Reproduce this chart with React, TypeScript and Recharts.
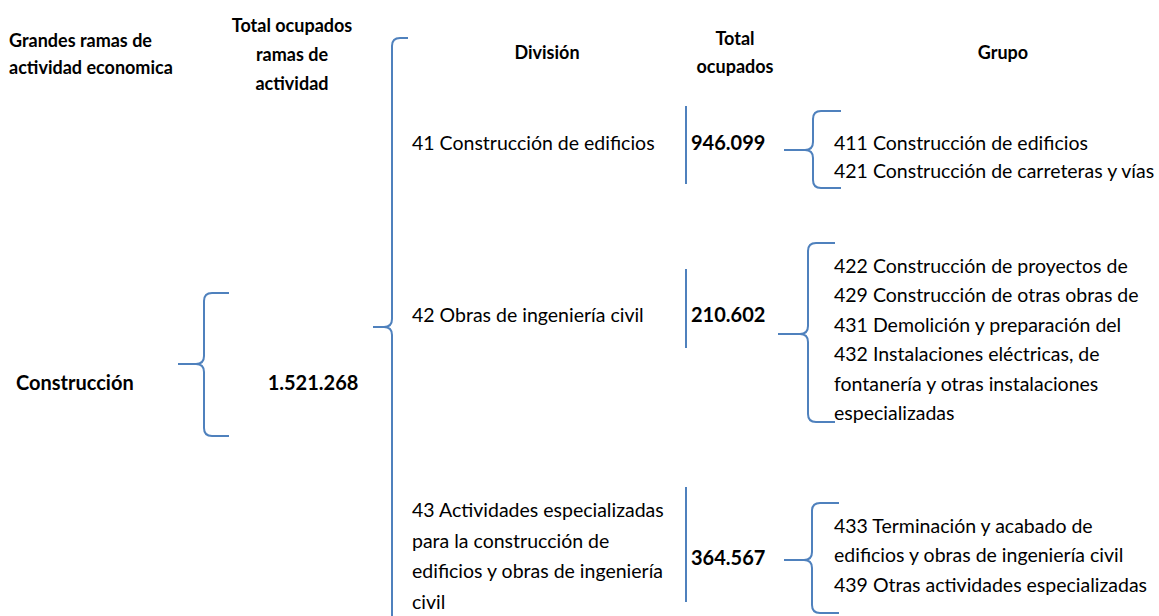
import { ScatterChart, Scatter, XAxis, YAxis, ReferenceLine } from 'recharts'

document.body.style.margin = '0'

// --- datos ---
const encabezados = [
  ['Grandes ramas de', 'actividad economica'],
  ['Total ocupados', 'ramas de', 'actividad'],
  ['División'],
  ['Total', 'ocupados'],
  ['Grupo'],
]
const rama = 'Construcción'
const totalRama = 1521268
const divisiones = [
  ['41 Construcción de edificios'],
  ['42 Obras de ingeniería civil'],
  ['43 Actividades especializadas', 'para la construcción de', 'edificios y obras de ingeniería', 'civil'],
]
const totalesDivision = [946099, 210602, 364567]
const grupos = [
  ['411 Construcción de edificios', '421 Construcción de carreteras y vías'],
  [
    '422 Construcción de proyectos de',
    '429 Construcción de otras obras de',
    '431 Demolición y preparación del',
    '432 Instalaciones eléctricas, de',
    'fontanería y otras instalaciones',
    'especializadas',
  ],
  ['433 Terminación y acabado de', 'edificios y obras de ingeniería civil', '439 Otras actividades especializadas'],
]

// --- layout (pixels == axis units) ---
const W = 1159
const H = 616
const FONT = 'Lato, "Open Sans", sans-serif'
const BLUE = '#4F81BD'
const headerPos = [
  { x: 9, y: 47, anchor: 'start', lh: 27 },
  { x: 292, y: 32, anchor: 'middle', lh: 29 },
  { x: 547, y: 59, anchor: 'middle', lh: 28 },
  { x: 735, y: 45, anchor: 'middle', lh: 28 },
  { x: 1003, y: 59, anchor: 'middle', lh: 28 },
]
const divisionPos = [150, 322, 517]
const divisionLh = [32, 32, 30.7]
const totalPos = [150, 322, 565]
const grupoPos = [150, 273, 533]
const bars = [
  [106, 184],
  [269, 348],
  [487, 602],
]
const braces = [
  { x: 204, y: 364, top: 293, bottom: 436, tipX: 178, armX: 229 },
  { x: 392, y: 327, top: 38, bottom: 660, tipX: 373, armX: 408 },
  { x: 813, y: 150, top: 111, bottom: 188, tipX: 784, armX: 841 },
  { x: 808, y: 334, top: 243, bottom: 422, tipX: 778, armX: 835 },
  { x: 812, y: 560, top: 503, bottom: 613, tipX: 784, armX: 839 },
]

const fmt = (n: number) => String(n).replace(/\B(?=(\d{3})+(?!\d))/g, '.')

type Lbl = { x: number; y: number; lines: string[]; size: number; bold: boolean; anchor: string; lh: number }

const labels: Lbl[] = [
  ...encabezados.map((lines, i) => ({ ...headerPos[i], lines, size: 18, bold: true })),
  { x: 16, y: 390, lines: [rama], size: 20, bold: true, anchor: 'start', lh: 28 },
  { x: 313, y: 390, lines: [fmt(totalRama)], size: 20, bold: true, anchor: 'middle', lh: 28 },
  ...divisiones.map((lines, i) => ({ x: 412, y: divisionPos[i], lines, size: 19.5, bold: false, anchor: 'start', lh: divisionLh[i] })),
  ...totalesDivision.map((v, i) => ({ x: 691, y: totalPos[i], lines: [fmt(v)], size: 20, bold: true, anchor: 'start', lh: 28 })),
  ...grupos.map((lines, i) => ({ x: 834, y: grupoPos[i], lines, size: 19.5, bold: false, anchor: 'start', lh: i === 0 ? 28 : 29.4 })),
]

const LabelShape = (props: any) => {
  const { cx, cy, payload } = props
  return (
    <text
      x={cx}
      y={cy}
      textAnchor={payload.anchor}
      fontFamily={FONT}
      fontSize={payload.size}
      fontWeight={payload.bold ? 700 : 400}
      fill="#000"
    >
      {payload.lines.map((l: string, i: number) => (
        <tspan key={i} x={cx} dy={i === 0 ? 0 : payload.lh}>
          {l}
        </tspan>
      ))}
    </text>
  )
}

const BraceShape = (props: any) => {
  const { cx, cy, payload: b } = props
  const r = 8
  const top = cy + (b.top - b.y)
  const bottom = cy + (b.bottom - b.y)
  const tip = cx + (b.tipX - b.x)
  const arm = cx + (b.armX - b.x)
  const d = [
    `M${arm},${top} L${cx + r},${top} Q${cx},${top} ${cx},${top + r}`,
    `L${cx},${cy - r} Q${cx},${cy} ${cx - r},${cy} L${tip},${cy}`,
    `M${cx - r},${cy} Q${cx},${cy} ${cx},${cy + r}`,
    `L${cx},${bottom - r} Q${cx},${bottom} ${cx + r},${bottom} L${arm},${bottom}`,
  ].join(' ')
  return <path d={d} fill="none" stroke={BLUE} strokeWidth={2} />
}

export default function App() {
  return (
    <div style={{ width: W, height: H, background: '#fff' }}>
      <ScatterChart width={W} height={H} margin={{ top: 0, right: 0, bottom: 0, left: 0 }}>
        <XAxis type="number" dataKey="x" domain={[0, W]} allowDataOverflow hide />
        <YAxis type="number" dataKey="y" domain={[0, H]} allowDataOverflow reversed hide />
        {bars.map(([a, b], i) => (
          <ReferenceLine key={i} segment={[{ x: 686, y: a }, { x: 686, y: b }]} stroke={BLUE} strokeWidth={2} />
        ))}
        <Scatter data={braces} shape={<BraceShape />} isAnimationActive={false} />
        <Scatter data={labels} shape={<LabelShape />} isAnimationActive={false} />
      </ScatterChart>
    </div>
  )
}
